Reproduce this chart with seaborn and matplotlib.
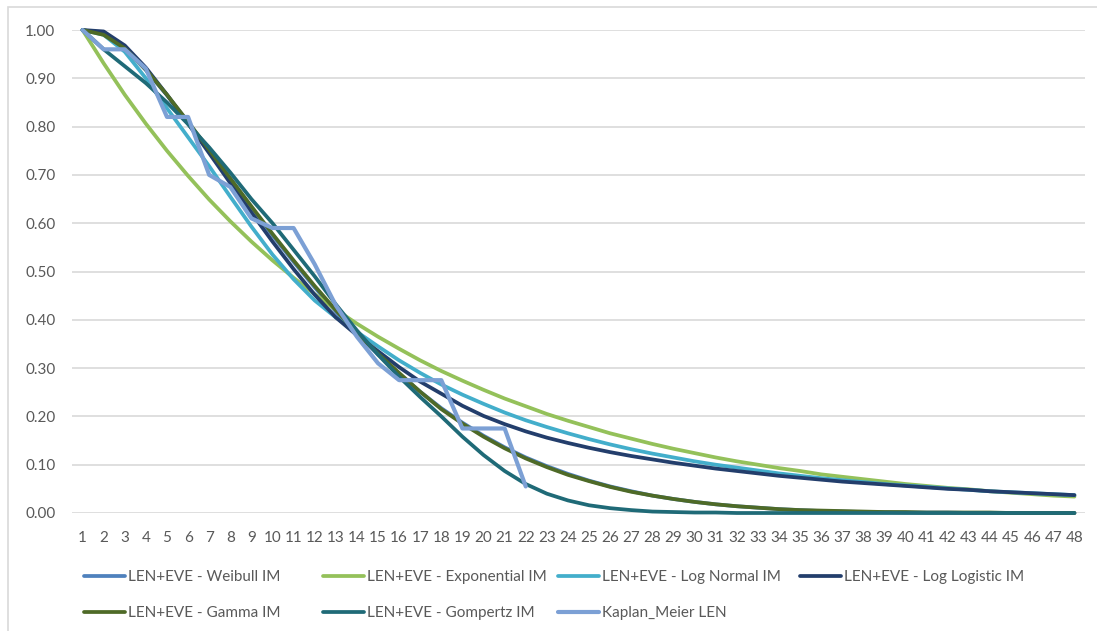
import numpy as np
import pandas as pd
import matplotlib
matplotlib.use('Agg')
import matplotlib.pyplot as plt
from matplotlib.patches import Rectangle
import seaborn as sns

# months 1..48
months = list(range(1, 49))

weibull = [1.000, 0.992, 0.962, 0.917, 0.865, 0.809, 0.750, 0.691, 0.632, 0.575,
           0.520, 0.467, 0.417, 0.371, 0.328, 0.288, 0.251, 0.217, 0.187, 0.160,
           0.136, 0.115, 0.097, 0.081, 0.067, 0.055, 0.045, 0.036, 0.029, 0.023,
           0.018, 0.014, 0.011, 0.008, 0.006, 0.004, 0.003, 0.002, 0.002, 0.001,
           0.001, 0.001, 0.000, 0.000, 0.000, 0.000, 0.000, 0.000]
exponential = [1.000, 0.931, 0.866, 0.806, 0.750, 0.698, 0.649, 0.604, 0.562, 0.523,
               0.487, 0.453, 0.421, 0.392, 0.365, 0.340, 0.316, 0.294, 0.274, 0.255,
               0.237, 0.221, 0.205, 0.191, 0.178, 0.165, 0.154, 0.143, 0.133, 0.124,
               0.115, 0.107, 0.100, 0.093, 0.087, 0.080, 0.075, 0.070, 0.065, 0.060,
               0.056, 0.052, 0.049, 0.045, 0.042, 0.039, 0.036, 0.034]
log_normal = [1.000, 0.990, 0.955, 0.900, 0.838, 0.778, 0.718, 0.655, 0.593, 0.535,
              0.484, 0.440, 0.405, 0.375, 0.345, 0.316, 0.290, 0.266, 0.245, 0.226,
              0.208, 0.192, 0.178, 0.165, 0.153, 0.142, 0.132, 0.123, 0.115, 0.107,
              0.100, 0.094, 0.088, 0.082, 0.077, 0.072, 0.068, 0.064, 0.060, 0.057,
              0.054, 0.051, 0.048, 0.045, 0.043, 0.041, 0.039, 0.037]
log_logistic = [1.000, 0.997, 0.968, 0.922, 0.866, 0.806, 0.745, 0.683, 0.622, 0.562,
                0.505, 0.452, 0.405, 0.368, 0.335, 0.302, 0.272, 0.247, 0.222, 0.201,
                0.184, 0.169, 0.156, 0.145, 0.135, 0.126, 0.118, 0.111, 0.104, 0.098,
                0.092, 0.087, 0.082, 0.077, 0.073, 0.069, 0.065, 0.062, 0.059, 0.056,
                0.053, 0.050, 0.048, 0.045, 0.043, 0.041, 0.039, 0.037]
gamma = [1.000, 0.990, 0.962, 0.918, 0.866, 0.810, 0.752, 0.693, 0.635, 0.578,
         0.523, 0.470, 0.420, 0.373, 0.330, 0.290, 0.251, 0.215, 0.185, 0.158,
         0.134, 0.113, 0.095, 0.079, 0.066, 0.054, 0.044, 0.036, 0.029, 0.023,
         0.018, 0.014, 0.011, 0.008, 0.006, 0.005, 0.004, 0.003, 0.002, 0.002,
         0.001, 0.001, 0.001, 0.001, 0.000, 0.000, 0.000, 0.000]
gompertz = [1.000, 0.960, 0.925, 0.890, 0.850, 0.805, 0.757, 0.705, 0.650, 0.600,
            0.545, 0.490, 0.432, 0.378, 0.328, 0.282, 0.240, 0.200, 0.158, 0.120,
            0.087, 0.060, 0.040, 0.026, 0.016, 0.010, 0.006, 0.003, 0.002, 0.001,
            0.001, 0.000, 0.000, 0.000, 0.000, 0.000, 0.000, 0.000, 0.000, 0.000,
            0.000, 0.000, 0.000, 0.000, 0.000, 0.000, 0.000, 0.000]
# Kaplan-Meier only observed up to month 22
km_months = list(range(1, 23))
kaplan_meier = [1.000, 0.960, 0.960, 0.920, 0.820, 0.820, 0.700, 0.675, 0.610, 0.590,
                0.590, 0.515, 0.430, 0.365, 0.310, 0.275, 0.275, 0.275, 0.175, 0.175,
                0.175, 0.055]

series = [
    ('LEN+EVE - Weibull IM', months, weibull, '#4F81BD', 2.7),
    ('LEN+EVE - Exponential IM', months, exponential, '#94C15A', 2.7),
    ('LEN+EVE - Log Normal IM', months, log_normal, '#43AECB', 2.7),
    ('LEN+EVE - Log Logistic IM', months, log_logistic, '#233E6C', 2.7),
    ('LEN+EVE - Gamma IM', months, gamma, '#4E6A27', 2.7),
    ('LEN+EVE - Gompertz IM', months, gompertz, '#1F6A77', 2.7),
    ('Kaplan_Meier LEN', km_months, kaplan_meier, '#7CA0D5', 3.0),
]

sns.set_style('white')
plt.rcParams['font.family'] = ['Lato', 'DejaVu Sans']

fig = plt.figure(figsize=(10.97, 6.31), dpi=100)
ax = fig.add_axes([72 / 1097, 1 - 513 / 631, (1085 - 72) / 1097, (513 - 30) / 631])

for name, x, y, color, lw in series:
    df = pd.DataFrame({'t': x, 'S': y})
    sns.lineplot(data=df, x='t', y='S', color=color, linewidth=lw, label=name,
                 ax=ax, legend=False, clip_on=False, solid_joinstyle='round')

ax.set_xlim(0.5, 48.5)
ax.set_ylim(0, 1.0)
ax.set_yticks(np.arange(0, 1.01, 0.1))
ax.set_yticklabels([f'{v:.2f}' for v in np.arange(0, 1.01, 0.1)])
ax.set_xticks(months)
ax.set_xticklabels([str(m) for m in months])
ax.grid(axis='y', color='#D9D9D9', linewidth=1.2)
ax.set_axisbelow(True)
ax.tick_params(axis='both', length=0, labelsize=11, colors='#595959')
ax.tick_params(axis='y', pad=12)
ax.tick_params(axis='x', pad=13)
ax.set_xlabel('')
ax.set_ylabel('')
sns.despine(ax=ax, left=True, bottom=True)

# legend laid out like Excel: fixed column slots, filled row by row
handles = ax.get_lines()
labels = [s[0] for s in series]
slots = [[0, 4], [1, 5], [2, 6], [3]]
col_x = [84, 323, 558, 800]
for idx, xpix in zip(slots, col_x):
    fig.legend([handles[i] for i in idx], [labels[i] for i in idx],
               loc='upper left', bbox_to_anchor=(xpix / 1097, 1 - 570 / 631),
               frameon=False, fontsize=11, handlelength=2.7, handletextpad=0.2,
               borderpad=0, borderaxespad=0, labelspacing=1.45,
               labelcolor='#595959')

# chart area border
fig.patches.append(Rectangle((8 / 1097, -0.1), 1.2, 1 - 7 / 631 + 0.1,
                             transform=fig.transFigure, fill=False,
                             edgecolor='#D9D9D9', linewidth=1.2))

fig.savefig('out.png', dpi=100)
